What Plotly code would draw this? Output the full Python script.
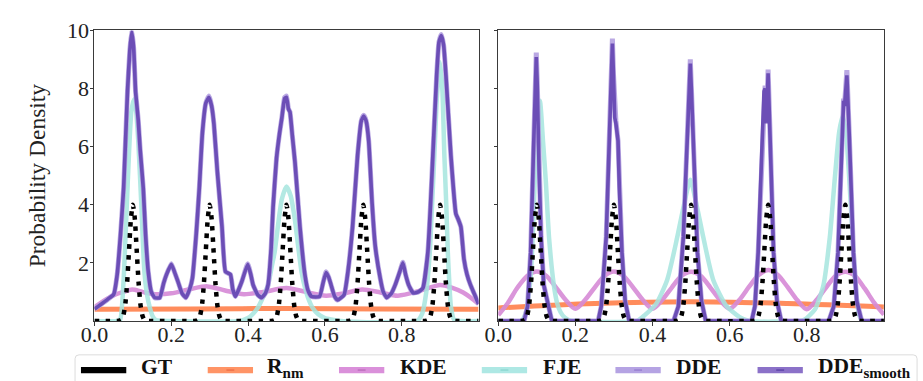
import plotly.graph_objects as go

W, H = 923, 381

# ---------------- data: left panel ----------------
gt_x = [0.0, 0.06,
        0.065, 0.07, 0.075, 0.08, 0.085, 0.09, 0.095, 0.1, 0.105, 0.11, 0.115, 0.12, 0.125, 0.13, 0.135,
        0.14, 0.26,
        0.265, 0.27, 0.275, 0.28, 0.285, 0.29, 0.295, 0.3, 0.305, 0.31, 0.315, 0.32, 0.325, 0.33, 0.335,
        0.34, 0.46,
        0.465, 0.47, 0.475, 0.48, 0.485, 0.49, 0.495, 0.5, 0.505, 0.51, 0.515, 0.52, 0.525, 0.53, 0.535,
        0.54, 0.66,
        0.665, 0.67, 0.675, 0.68, 0.685, 0.69, 0.695, 0.7, 0.705, 0.71, 0.715, 0.72, 0.725, 0.73, 0.735,
        0.74, 0.86,
        0.865, 0.87, 0.875, 0.88, 0.885, 0.89, 0.895, 0.9, 0.905, 0.91, 0.915, 0.92, 0.925, 0.93, 0.935,
        0.94, 1.0]
gt_y = [0.0, 0.0,
        0.01, 0.04, 0.18, 0.54, 1.30, 2.43, 3.53, 4.0, 3.53, 2.43, 1.30, 0.54, 0.18, 0.04, 0.01,
        0.0, 0.0,
        0.01, 0.04, 0.18, 0.54, 1.30, 2.43, 3.53, 4.0, 3.53, 2.43, 1.30, 0.54, 0.18, 0.04, 0.01,
        0.0, 0.0,
        0.01, 0.04, 0.18, 0.54, 1.30, 2.43, 3.53, 4.0, 3.53, 2.43, 1.30, 0.54, 0.18, 0.04, 0.01,
        0.0, 0.0,
        0.01, 0.04, 0.18, 0.54, 1.30, 2.43, 3.53, 4.0, 3.53, 2.43, 1.30, 0.54, 0.18, 0.04, 0.01,
        0.0, 0.0,
        0.01, 0.04, 0.18, 0.54, 1.30, 2.43, 3.53, 4.0, 3.53, 2.43, 1.30, 0.54, 0.18, 0.04, 0.01,
        0.0, 0.0]

rnm_left_x = [0.0, 0.25, 0.5, 0.75, 1.0]
rnm_left_y = [0.40, 0.41, 0.43, 0.41, 0.40]

kde_left_x = [0.0, 0.025, 0.047, 0.075, 0.098, 0.125, 0.158, 0.2, 0.25, 0.294, 0.34, 0.389, 0.44,
              0.5, 0.55, 0.603, 0.65, 0.697, 0.745, 0.79, 0.85, 0.9, 0.93, 0.96, 0.98, 1.0]
kde_left_y = [0.47, 0.7, 0.87, 1.0, 1.08, 1.0, 0.92, 0.95, 1.1, 1.19, 1.05, 0.92, 1.0,
              1.13, 1.0, 0.87, 0.95, 1.08, 0.98, 0.87, 1.05, 1.24, 1.15, 0.98, 0.8, 0.58]

fje_left_x = [0.0, 0.06, 0.067, 0.075, 0.083, 0.09, 0.096, 0.103, 0.108, 0.114, 0.122, 0.13, 0.137,
              0.144, 0.152, 0.16, 0.2, 0.38, 0.4, 0.413, 0.426, 0.44, 0.452, 0.462, 0.469, 0.478,
              0.488, 0.5, 0.511, 0.522, 0.531, 0.539, 0.548, 0.556, 0.568, 0.582, 0.6, 0.616, 0.64,
              0.84, 0.853, 0.864, 0.873, 0.879, 0.885, 0.892, 0.9, 0.906, 0.911, 0.916, 0.92, 0.924,
              0.928, 0.936, 0.95, 1.0]
fje_left_y = [0.0, 0.0, 0.05, 1.2, 3.6, 5.8, 7.2, 7.63, 7.3, 6.2, 4.0, 1.7, 0.9,
              0.47, 0.15, 0.03, 0.0, 0.0, 0.1, 0.25, 0.47, 0.85, 1.24, 1.9, 2.36, 3.3,
              4.2, 4.63, 4.3, 3.47, 2.5, 1.7, 1.15, 0.8, 0.45, 0.24, 0.1, 0.05, 0.0,
              0.0, 0.24, 1.0, 2.36, 4.0, 5.7, 7.8, 8.9, 7.9, 5.7, 4.0, 2.36, 1.3,
              0.5, 0.05, 0.0, 0.0]

dde_left_x = [0.0, 0.02, 0.04, 0.05, 0.059, 0.068, 0.076, 0.086, 0.092, 0.097, 0.102, 0.107, 0.11,
              0.114, 0.119, 0.127, 0.133, 0.14, 0.148, 0.157, 0.17, 0.18, 0.187, 0.2, 0.208, 0.217,
              0.228, 0.238, 0.248, 0.255, 0.265, 0.273, 0.281, 0.29, 0.298, 0.305, 0.311, 0.32,
              0.332, 0.341, 0.354, 0.36, 0.367, 0.376, 0.384, 0.399, 0.407, 0.413, 0.425, 0.435,
              0.445, 0.452, 0.46, 0.465, 0.474, 0.482, 0.488, 0.495, 0.5, 0.505, 0.509, 0.515,
              0.522, 0.535, 0.548, 0.556, 0.565, 0.586, 0.595, 0.603, 0.61, 0.616, 0.625, 0.633,
              0.65, 0.66, 0.672, 0.685, 0.695, 0.701, 0.707, 0.714, 0.723, 0.731, 0.744, 0.752,
              0.761, 0.773, 0.783, 0.795, 0.803, 0.81, 0.818, 0.83, 0.843, 0.855, 0.868, 0.875,
              0.881, 0.891, 0.897, 0.903, 0.909, 0.915, 0.928, 0.941, 0.947, 0.954, 0.962, 0.97,
              0.979, 0.99, 1.0]
dde_left_y = [0.41, 0.6, 0.8, 0.91, 1.58, 3.0, 4.58, 7.9, 9.3, 10.0, 9.4, 7.9, 7.47,
              6.9, 5.9, 4.58, 3.0, 1.7, 1.0, 0.8, 0.8, 1.3, 1.58, 1.97, 1.7, 1.37,
              0.95, 0.8, 1.1, 1.47, 3.0, 4.58, 6.47, 7.5, 7.74, 7.4, 6.78, 5.13,
              3.24, 1.7, 1.6, 1.1, 0.84, 1.1, 1.37, 1.97, 1.6, 1.24, 0.9, 0.8,
              0.95, 1.24, 2.5, 3.91, 5.6, 6.47, 7.0, 7.69, 7.74, 7.3, 7.19, 6.4,
              5.47, 3.24, 1.58, 1.05, 0.84, 0.84, 1.3, 1.69, 1.5, 1.24, 0.85, 0.72,
              0.9, 1.7, 3.24, 5.69, 6.9, 7.08, 6.9, 6.2, 4.02, 2.58, 1.47, 1.0,
              0.8, 0.95, 1.24, 1.7, 2.02, 1.6, 1.24, 0.96, 1.0, 1.13, 2.36, 4.0,
              5.69, 8.47, 9.6, 9.86, 9.5, 8.47, 5.69, 3.69, 3.5, 3.24, 2.13, 1.6,
              1.24, 0.9, 0.58]

ddes_left_x = list(dde_left_x)
ddes_left_y = [0.41, 0.6, 0.8, 0.91, 1.58, 3.0, 4.58, 7.9, 9.3, 9.95, 9.4, 7.9, 7.47,
               6.9, 5.9, 4.58, 3.0, 1.7, 1.0, 0.8, 0.8, 1.3, 1.58, 1.95, 1.7, 1.37,
               0.95, 0.8, 1.1, 1.47, 3.0, 4.58, 6.47, 7.5, 7.7, 7.4, 6.78, 5.13,
               3.24, 1.7, 1.6, 1.1, 0.84, 1.1, 1.37, 1.95, 1.6, 1.24, 0.9, 0.8,
               0.95, 1.24, 2.5, 3.91, 5.6, 6.47, 7.0, 7.65, 7.7, 7.3, 7.19, 6.4,
               5.47, 3.24, 1.58, 1.05, 0.84, 0.84, 1.3, 1.67, 1.5, 1.24, 0.85, 0.72,
               0.9, 1.7, 3.24, 5.69, 6.9, 7.05, 6.9, 6.2, 4.02, 2.58, 1.47, 1.0,
               0.8, 0.95, 1.24, 1.7, 2.0, 1.6, 1.24, 0.96, 1.0, 1.13, 2.36, 4.0,
               5.69, 8.47, 9.6, 9.82, 9.5, 8.47, 5.69, 3.69, 3.5, 3.24, 2.13, 1.6,
               1.24, 0.9, 0.58]

# ---------------- data: right panel ----------------
rnm_right_x = [0.0, 0.25, 0.5, 0.75, 1.0]
rnm_right_y = [0.45, 0.6, 0.66, 0.6, 0.48]

kde_right_x = [0.0, 0.025, 0.05, 0.075, 0.1, 0.125, 0.15, 0.175, 0.2, 0.225, 0.25, 0.275, 0.3,
               0.325, 0.35, 0.375, 0.4, 0.425, 0.45, 0.475, 0.5, 0.525, 0.55, 0.575, 0.6, 0.625,
               0.65, 0.675, 0.7, 0.725, 0.75, 0.775, 0.8, 0.825, 0.85, 0.875, 0.9, 0.925, 0.95,
               0.975, 1.0]
kde_right_y = [0.2, 0.62, 1.15, 1.55, 1.7, 1.55, 1.15, 0.72, 0.42, 0.72, 1.15, 1.55, 1.7,
               1.55, 1.15, 0.72, 0.42, 0.72, 1.15, 1.55, 1.69, 1.55, 1.15, 0.72, 0.42, 0.72,
               1.17, 1.58, 1.75, 1.58, 1.17, 0.72, 0.4, 0.72, 1.15, 1.55, 1.69, 1.55, 1.12,
               0.62, 0.22]

fje_right_x = [0.0, 0.06, 0.072, 0.08, 0.085, 0.092, 0.1, 0.108, 0.116, 0.1234, 0.1318, 0.1445,
               0.153, 0.1617, 0.172, 0.183, 0.2, 0.36, 0.38, 0.41, 0.438, 0.4638, 0.48, 0.498,
               0.515, 0.532, 0.5575, 0.5914, 0.626, 0.65, 0.78, 0.795, 0.8213, 0.8427, 0.8596,
               0.872, 0.884, 0.8938, 0.903, 0.9106, 0.919, 0.928, 0.936, 0.945, 1.0]
fje_right_y = [0.0, 0.0, 0.3, 1.0, 1.7, 3.8, 6.6, 7.58, 6.2, 4.8, 2.86, 1.2,
               0.6, 0.3, 0.12, 0.03, 0.0, 0.0, 0.2, 0.6, 1.41, 2.86, 3.9, 4.86,
               3.95, 2.86, 1.41, 0.52, 0.13, 0.0, 0.0, 0.05, 0.4, 1.2, 2.86,
               4.8, 6.5, 7.08, 6.3, 4.8, 2.86, 0.97, 0.2, 0.0, 0.0]

dde_right_x = [0.0, 0.067, 0.076, 0.084, 0.091, 0.094, 0.0965, 0.0986, 0.101, 0.103, 0.106, 0.111,
               0.118, 0.131, 0.139, 0.259, 0.267, 0.28, 0.2886, 0.293, 0.296, 0.2988, 0.302,
               0.305, 0.3106, 0.314, 0.3208, 0.329, 0.3396, 0.4545, 0.467, 0.48, 0.4885, 0.494,
               0.498, 0.501, 0.504, 0.51, 0.5166, 0.527, 0.538, 0.657, 0.6655, 0.674, 0.6826,
               0.689, 0.692, 0.6955, 0.6997, 0.704, 0.708, 0.714, 0.7227, 0.7337, 0.857, 0.87,
               0.881, 0.8877, 0.893, 0.8955, 0.898, 0.904, 0.91, 0.915, 0.921, 0.9295, 0.9423, 1.0]
dde_right_y = [0.0, 0.0, 0.5, 2.36, 5.69, 7.4, 7.9, 9.24, 8.3, 7.4, 5.13, 2.9,
               1.24, 0.47, 0.0, 0.0, 0.5, 2.9, 6.25, 8.5, 9.72, 8.5, 7.1,
               6.9, 6.2, 4.58, 2.36, 0.69, 0.0, 0.0, 0.5, 2.9, 5.69, 7.95,
               9.0, 7.95, 6.78, 4.58, 2.36, 0.69, 0.0, 0.0, 0.5, 2.36, 5.13,
               7.95, 8.1, 6.85, 8.65, 6.8, 4.58, 2.36, 0.69, 0.0, 0.0, 0.5,
               2.36, 5.13, 7.4, 7.65, 7.45, 8.63, 6.5, 4.58, 2.36, 0.69, 0.0, 0.0]

ddes_right_x = list(dde_right_x)
ddes_right_y = [0.0, 0.0, 0.5, 2.36, 5.69, 7.35, 7.8, 9.08, 8.2, 7.35, 5.13, 2.9,
                1.24, 0.47, 0.0, 0.0, 0.5, 2.9, 6.25, 8.47, 9.55, 8.47, 7.0,
                6.8, 6.2, 4.58, 2.36, 0.69, 0.0, 0.0, 0.5, 2.9, 5.69, 7.9,
                8.86, 7.9, 6.78, 4.58, 2.36, 0.69, 0.0, 0.0, 0.5, 2.36, 5.13,
                7.9, 8.0, 6.8, 8.52, 6.78, 4.58, 2.36, 0.69, 0.0, 0.0, 0.5,
                2.36, 5.13, 7.35, 7.58, 7.4, 8.45, 6.47, 4.58, 2.36, 0.69, 0.0, 0.0]

# ---------------- axis ticks ----------------
x_ticks = [0.0, 0.2, 0.4, 0.6, 0.8]
x_tick_text = ["0.0", "0.2", "0.4", "0.6", "0.8"]
y_ticks = [2, 4, 6, 8, 10]
y_tick_text = ["2", "4", "6", "8", "10"]

# ---------------- legend entries ----------------
legend_names = ["<b>GT</b>", "<b>R<sub>nm</sub></b>", "<b>KDE</b>", "<b>FJE</b>", "<b>DDE</b>",
                "<b>DDE<sub>smooth</sub></b>"]
legend_colors = ["#000000", "#ff9466", "#da90da", "#aee8e4", "#b5a3e3", "#8b71c8"]
legend_marks = ["#000000", "#e8603a", "#b060b0", "#7fcfc8", "#8a70c8", "#4a2f9a"]

# ---------------- styles ----------------
FONT = "Liberation Serif"
C_RNM = "#ff8c5c"
C_KDE = "#d68bd6"
C_FJE = "#a6e5df"
C_DDE = "#b3a0e0"
C_DDES = "#5e3fae"

fig = go.Figure()


def add_panel(xa, ya, rnm, kde, fje, dde, ddes, gt, dde_shape):
    kw = dict(xaxis=xa, yaxis=ya, mode="lines", showlegend=False, hoverinfo="skip")
    fig.add_trace(go.Scatter(x=rnm[0], y=rnm[1], line=dict(color=C_RNM, width=5, shape="spline"), **kw))
    fig.add_trace(go.Scatter(x=kde[0], y=kde[1], opacity=0.9,
                             line=dict(color=C_KDE, width=4.5, shape="spline", smoothing=0.8), **kw))
    fig.add_trace(go.Scatter(x=fje[0], y=fje[1], opacity=0.85,
                             line=dict(color=C_FJE, width=4.5, shape="spline", smoothing=0.6), **kw))
    fig.add_trace(go.Scatter(x=dde[0], y=dde[1], opacity=0.9,
                             line=dict(color=C_DDE, width=5, **dde_shape), **kw))
    fig.add_trace(go.Scatter(x=ddes[0], y=ddes[1], opacity=0.85,
                             line=dict(color=C_DDES, width=3.6, **dde_shape), **kw))
    fig.add_trace(go.Scatter(x=gt[0], y=gt[1],
                             line=dict(color="#000000", width=4.5, dash="4.5px,6.5px",
                                       shape="spline", smoothing=0.6), **kw))


add_panel("x", "y", (rnm_left_x, rnm_left_y), (kde_left_x, kde_left_y), (fje_left_x, fje_left_y),
          (dde_left_x, dde_left_y), (ddes_left_x, ddes_left_y), (gt_x, gt_y),
          dict(shape="spline", smoothing=0.4))
add_panel("x2", "y2", (rnm_right_x, rnm_right_y), (kde_right_x, kde_right_y),
          (fje_right_x, fje_right_y), (dde_right_x, dde_right_y), (ddes_right_x, ddes_right_y),
          (gt_x, gt_y), dict(shape="linear"))


def px_x(p):
    return p / W


def px_y(p):
    return (H - p) / H


y_dom = [px_y(319), px_y(19)]
tick_font = dict(family=FONT, size=22, color="#222222")
spine = dict(showline=True, linecolor="#3a3a3a", linewidth=1.2, mirror=True, zeroline=False,
             showgrid=False, ticks="outside", tickcolor="#3a3a3a", tickwidth=1)

fig.update_layout(
    width=W, height=H,
    margin=dict(l=0, r=0, t=0, b=0),
    paper_bgcolor="white", plot_bgcolor="white",
    xaxis=dict(domain=[px_x(81.7), px_x(471.7)], range=[0, 1], tickvals=x_ticks,
               ticktext=x_tick_text, ticklen=4, tickfont=tick_font, ticklabelstandoff=-10,
               **spine),
    yaxis=dict(domain=y_dom, range=[0, 10], tickvals=y_ticks, ticktext=y_tick_text,
               ticklen=3, tickfont=tick_font, ticklabelstandoff=-3, anchor="x", **spine),
    xaxis2=dict(domain=[px_x(491.7), px_x(883.3)], range=[0, 1], tickvals=x_ticks,
                ticktext=x_tick_text, ticklen=4, tickfont=tick_font, ticklabelstandoff=-10,
                anchor="y2", **spine),
    yaxis2=dict(domain=y_dom, range=[0, 10], tickvals=y_ticks, showticklabels=False,
                ticklen=3, anchor="x2", **spine),
)

# y-axis title
fig.add_annotation(text="Probability Density", xref="paper", yref="paper",
                   x=px_x(23), y=px_y(169), showarrow=False, textangle=-90,
                   font=dict(family=FONT, size=23.5, color="#222222"),
                   xanchor="center", yanchor="middle")

# legend frame along the bottom
lx0, lx1, ly0, ly1, r = 62, 917, 354, 392, 4
path = (f"M {px_x(lx0 + r)},{px_y(ly0)} L {px_x(lx1 - r)},{px_y(ly0)} "
        f"Q {px_x(lx1)},{px_y(ly0)} {px_x(lx1)},{px_y(ly0 + r)} "
        f"L {px_x(lx1)},{px_y(ly1)} L {px_x(lx0)},{px_y(ly1)} "
        f"L {px_x(lx0)},{px_y(ly0 + r)} Q {px_x(lx0)},{px_y(ly0)} {px_x(lx0 + r)},{px_y(ly0)} Z")
fig.add_shape(type="path", path=path, xref="paper", yref="paper",
              line=dict(color="#dcdcdc", width=1), fillcolor="white", layer="above")

swatch_x = [68, 196.7, 330, 475, 610.7, 755]
label_x = [127, 255, 390, 535, 670, 814.3]
for sx, lxp, name, col, mcol in zip(swatch_x, label_x, legend_names, legend_colors, legend_marks):
    fig.add_shape(type="rect", xref="paper", yref="paper",
                  x0=px_x(sx), x1=px_x(sx + 46), y0=px_y(373), y1=px_y(366.5),
                  fillcolor=col, line=dict(width=0), layer="above")
    if mcol != "#000000":
        fig.add_shape(type="line", xref="paper", yref="paper",
                      x0=px_x(sx + 19), x1=px_x(sx + 27), y0=px_y(369.7), y1=px_y(369.7),
                      line=dict(color=mcol, width=1), layer="above")
    fig.add_annotation(text=name, xref="paper", yref="paper", x=px_x(lxp), y=px_y(366.8),
                       showarrow=False, xanchor="left", yanchor="middle",
                       font=dict(family=FONT, size=21.5, color="#111111"))

fig.write_html("out.html")
